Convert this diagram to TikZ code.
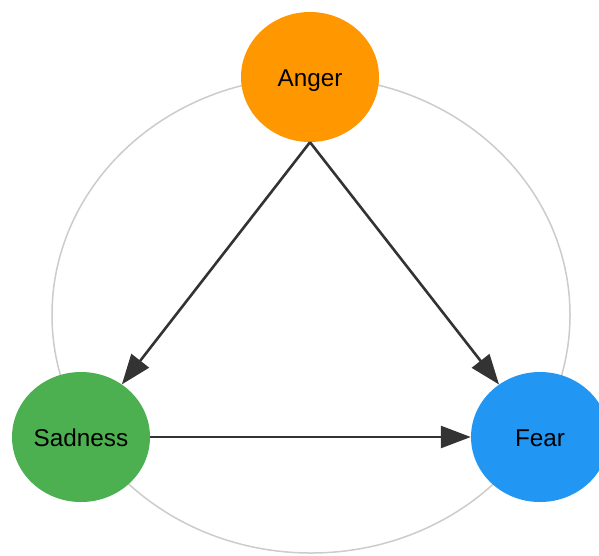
\documentclass[tikz,border=0pt]{standalone}
\usepackage{fontspec}
\setmainfont{Liberation Sans}
\usetikzlibrary{arrows.meta,shapes.geometric}
\definecolor{angerc}{HTML}{FF9800}
\definecolor{sadc}{HTML}{4CAF50}
\definecolor{fearc}{HTML}{2196F3}
\definecolor{edgec}{HTML}{333333}
\definecolor{ringc}{HTML}{CCCCCC}
\begin{document}
\begin{tikzpicture}[x=1pt,y=-1pt,
  emo/.style={ellipse, draw=none, minimum width=138pt, minimum height=130pt, inner sep=0pt,
    font=\fontsize{24.3}{28}\selectfont, text=black, text height=18pt, text depth=0pt},
  conn/.style={draw=edgec, line width=2.6pt, -{Triangle[length=30pt,width=22pt]}},
  ring/.style={draw=ringc, line width=1.5pt}]
\clip (0,0) rectangle (599,555);
\fill[white] (0,0) rectangle (599,555);
\draw[ring] (311,315) ellipse [x radius=259pt, y radius=238pt];
\node[emo, fill=angerc] (anger) at (310,77) {Anger};
\node[emo, fill=sadc] (sadness) at (81,437) {Sadness};
\node[emo, fill=fearc] (fear) at (540,437) {Fear};
\draw[conn] (anger.south) -- (sadness);
\draw[conn] (anger.south) -- (fear);
\draw[conn] (sadness) -- (fear);
\end{tikzpicture}
\end{document}
